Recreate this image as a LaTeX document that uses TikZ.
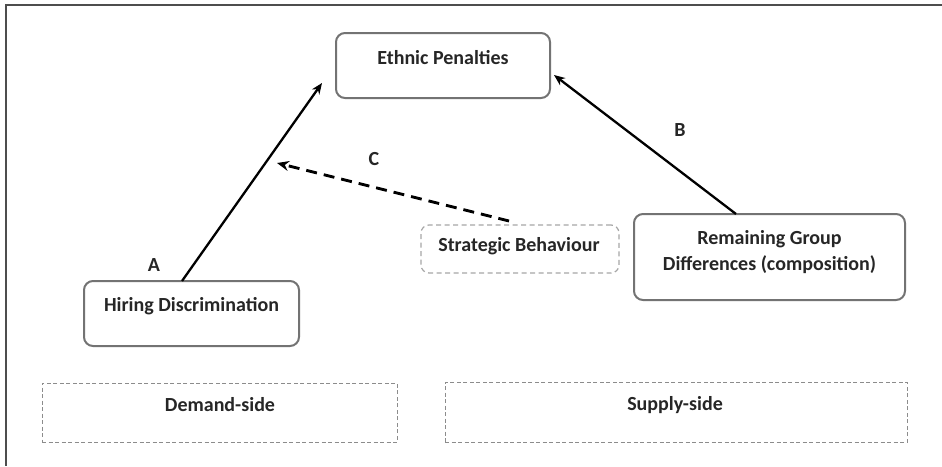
\documentclass[tikz,border=0pt]{standalone}
\usepackage{fontspec}
\setmainfont{Carlito}
\usetikzlibrary{arrows.meta}
\definecolor{boxgrey}{HTML}{737373}
\definecolor{lightgrey}{HTML}{A6A6A6}
\definecolor{dashgrey}{HTML}{8C8C8C}
\definecolor{txtcol}{HTML}{262626}
\definecolor{framecol}{HTML}{4D4D4D}
\tikzset{
  solidbox/.style={draw=boxgrey, line width=2pt, rounded corners=9pt, fill=white, inner sep=0pt},
  stratbox/.style={draw=lightgrey, line width=1.2pt, dash pattern=on 5pt off 3.5pt, rounded corners=8pt, inner sep=0pt},
  sidebox/.style={draw=dashgrey, line width=1pt, dash pattern=on 4pt off 2.5pt, inner sep=0pt},
  lbl/.style={font=\bfseries\fontsize{20}{26}\selectfont, text=txtcol, inner sep=0pt, align=center},
  conn/.style={line width=2.3pt, -{Stealth[length=11pt,width=9pt]}},
  dconn/.style={line width=2.8pt, dash pattern=on 11pt off 7pt, -{Stealth[length=12pt,width=10pt]}}
}
\begin{document}
\begin{tikzpicture}[x=1pt,y=-1pt]
\useasboundingbox (0,0) rectangle (942,466);
% frame (top and left edges)
\coordinate (ftl) at (6,5);
\coordinate (ftr) at (942,5);
\coordinate (fbl) at (6,466);
\draw[framecol, line width=1.6pt] (ftr) -- (ftl) -- (fbl);

% boxes
\node[solidbox, minimum width=214pt, minimum height=65pt] (ep) at (443,65.5) {};
\node[lbl] (eptxt) at (443,58) {Ethnic Penalties};

\node[solidbox, minimum width=215pt, minimum height=65pt] (hd) at (191.5,313.5) {};
\node[lbl] (hdtxt) at (191.5,306) {Hiring Discrimination};

\node[solidbox, minimum width=271pt, minimum height=86pt] (rg) at (769.5,257) {};
\node[lbl] (rgtxt) at (769.5,252) {Remaining Group\\Differences (composition)};

\node[stratbox, minimum width=198pt, minimum height=48pt] (sb) at (520,249) {};
\node[lbl] (sbtxt) at (519,246) {Strategic Behaviour};

\node[sidebox, minimum width=355pt, minimum height=59pt] (ds) at (219.5,412.5) {};
\node[lbl] (dstxt) at (220,405) {Demand-side};

\node[sidebox, minimum width=462pt, minimum height=60pt] (ss) at (676,412) {};
\node[lbl] (sstxt) at (675,405) {Supply-side};

% labels
\node[lbl] (la) at (154,265) {A};
\node[lbl] (lb) at (680,130) {B};
\node[lbl] (lc) at (374,159) {C};

% connector end points
\coordinate (astart) at (182,281);
\coordinate (aend) at (322,83);
\coordinate (bstart) at (736,214);
\coordinate (bend) at (554,75);
\coordinate (cstart) at (509,221);
\coordinate (cend) at (277,163);

\draw[conn] (astart) -- (aend);
\draw[conn] (bstart) -- (bend);
\draw[dconn] (cstart) -- (cend);
\end{tikzpicture}
\end{document}
